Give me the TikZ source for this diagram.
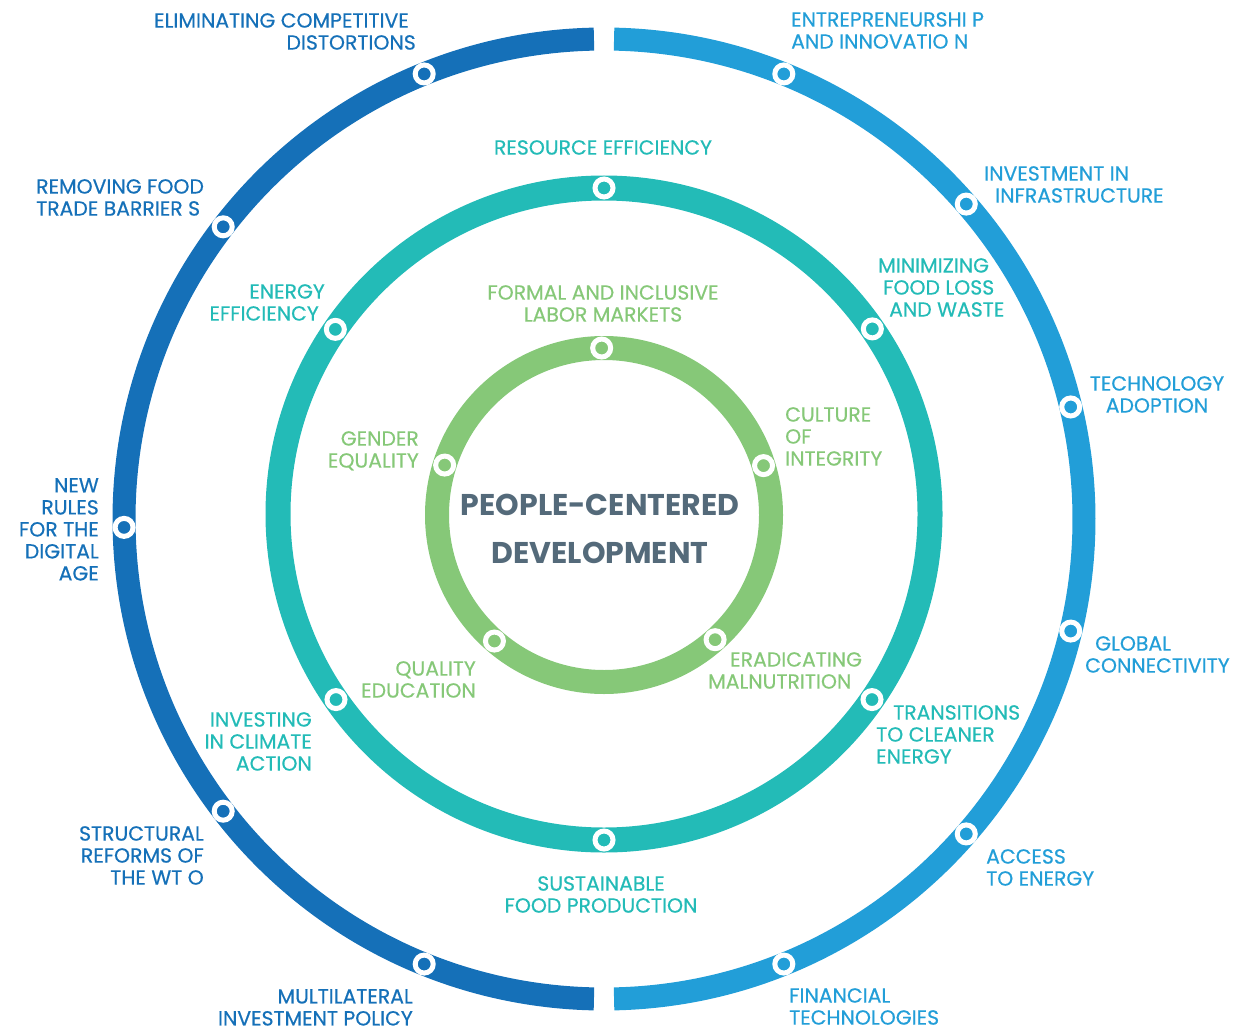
\documentclass[tikz,border=0pt]{standalone}
\usepackage{fontspec}
\setmainfont{Poppins}
\newfontfamily\labfont{Poppins}[FakeBold=0.5]
\usetikzlibrary{calc}
\definecolor{dkblue}{HTML}{1570B8}
\definecolor{ltblue}{HTML}{229ED8}
\definecolor{tealc}{HTML}{23BBB7}
\definecolor{greenc}{HTML}{86C878}
\definecolor{slate}{HTML}{546A7A}
\begin{document}
\begin{tikzpicture}[x=1pt,y=1pt,
  dot/.style={circle, fill=#1, draw=white, line width=5pt, minimum size=18pt, inner sep=0pt},
  lab/.style={inner sep=0pt, font=\labfont\fontsize{20.4}{22}\selectfont, text=#1},
  ring/.style={line width=#1}]
\useasboundingbox (0,0) rectangle (1238,-1032);
\coordinate (co) at (604,-519);
\coordinate (cm) at (604,-514);
\coordinate (ci) at (604,-515);
% rings
\draw[ring=23pt, dkblue] (co) ++(91.2:480) arc[start angle=91.2, end angle=268.8, radius=480];
\draw[ring=23pt, ltblue] (co) ++(-88.8:480) arc[start angle=-88.8, end angle=88.8, radius=480];
\draw[ring=25pt, tealc] (cm) circle[radius=326];
\draw[ring=24pt, greenc] (ci) circle[radius=167];
% outer dots
\node[dot=dkblue] (o1) at ($(co)+(112:480)$) {};
\node[dot=dkblue] (o2) at ($(co)+(142.5:480)$) {};
\node[dot=dkblue] (o3) at ($(co)+(181:480)$) {};
\node[dot=dkblue] (o4) at ($(co)+(217.5:480)$) {};
\node[dot=dkblue] (o5) at ($(co)+(248:480)$) {};
\node[dot=ltblue] (o6) at ($(co)+(68:480)$) {};
\node[dot=ltblue] (o7) at ($(co)+(41:480)$) {};
\node[dot=ltblue] (o8) at ($(co)+(13.5:480)$) {};
\node[dot=ltblue] (o9) at ($(co)+(-13.5:480)$) {};
\node[dot=ltblue] (o10) at ($(co)+(-41:480)$) {};
\node[dot=ltblue] (o11) at ($(co)+(-68:480)$) {};
% middle dots
\node[dot=tealc] (m1) at ($(cm)+(90:326)$) {};
\node[dot=tealc] (m2) at ($(cm)+(34.6:326)$) {};
\node[dot=tealc] (m3) at ($(cm)+(-34.7:326)$) {};
\node[dot=tealc] (m4) at ($(cm)+(-90:326)$) {};
\node[dot=tealc] (m5) at ($(cm)+(214.7:326)$) {};
\node[dot=tealc] (m6) at ($(cm)+(145.5:326)$) {};
% inner dots
\node[dot=greenc] (i1) at ($(ci)+(90.8:167)$) {};
\node[dot=greenc] (i2) at ($(ci)+(17.2:167)$) {};
\node[dot=greenc] (i3) at ($(ci)+(-48.3:167)$) {};
\node[dot=greenc] (i4) at ($(ci)+(229:167)$) {};
\node[dot=greenc] (i5) at ($(ci)+(162.6:167)$) {};
% center text
\node[inner sep=0pt, text=slate, font=\bfseries\fontsize{30}{48}\selectfont, align=center, anchor=north] (ctr) at (600,-494) {PEOPLE-CENTERED\\DEVELOPMENT};
% outer left labels
\node[lab=dkblue, align=right, anchor=north east] (l1) at (416,-13) {ELIMINATING COMPETITIVE\hspace*{7pt}\\DISTORTIONS};
\node[lab=dkblue, align=left, anchor=north west] (l2) at (36,-179) {REMOVING FOOD\\TRADE BARRIER S};
\node[lab=dkblue, align=right, anchor=north east] (l3) at (99,-478) {NEW\\RULES\\FOR THE\\DIGITAL\\AGE};
\node[lab=dkblue, align=right, anchor=north east] (l4) at (204,-826) {STRUCTURAL\\REFORMS OF\\THE WT O};
\node[lab=dkblue, align=right, anchor=north east] (l5) at (413,-989) {MULTILATERAL\\INVESTMENT POLICY};
% outer right labels
\node[lab=ltblue, align=left, anchor=north west] (r1) at (791,-12) {ENTREPRENEURSHI P\\AND INNOVATIO N};
\node[lab=ltblue, align=left, anchor=north west] (r2) at (984,-166) {INVESTMENT IN\\\hspace*{11pt}INFRASTRUCTURE};
\node[lab=ltblue, align=center, anchor=north] (r3) at (1157,-376) {TECHNOLOGY\\ADOPTION};
\node[lab=ltblue, align=left, anchor=north west] (r4) at (1085,-636) {\hspace*{10pt}GLOBAL\\CONNECTIVITY};
\node[lab=ltblue, align=left, anchor=north west] (r5) at (986,-849) {ACCESS\\TO ENERGY};
\node[lab=ltblue, align=left, anchor=north west] (r6) at (789,-988) {FINANCIAL\\TECHNOLOGIES};
% middle labels
\node[lab=tealc, anchor=north] (t1) at (603,-140) {RESOURCE EFFICIENCY};
\node[lab=tealc, align=left, anchor=north west] (t2) at (878,-258) {MINIMIZING\\\hspace*{5pt}FOOD LOSS\\\hspace*{11pt}AND WASTE};
\node[lab=tealc, align=left, anchor=north west] (t3) at (876,-705) {\hspace*{17pt}TRANSITIONS\\TO CLEANER\\ENERGY};
\node[lab=tealc, align=center, anchor=north] (t4) at (601,-876) {SUSTAINABLE\\FOOD PRODUCTION};
\node[lab=tealc, align=right, anchor=north east] (t5) at (312,-712) {INVESTING\\IN CLIMATE\\ACTION};
\node[lab=tealc, align=right, anchor=north east] (t6) at (325,-284) {ENERGY\\EFFICIENCY\hspace*{6pt}};
% inner labels
\node[lab=greenc, align=center, anchor=north] (g1) at (603,-285) {FORMAL AND INCLUSIVE\\LABOR MARKETS};
\node[lab=greenc, align=left, anchor=north west] (g2) at (785,-407) {CULTURE\\OF\\INTEGRITY};
\node[lab=greenc, align=right, anchor=north east] (g3) at (419,-431) {GENDER\\EQUALITY};
\node[lab=greenc, align=right, anchor=north east] (g4) at (476,-661) {QUALITY\\EDUCATION};
\node[lab=greenc, align=left, anchor=north west] (g5) at (708,-652) {\hspace*{22pt}ERADICATING\\MALNUTRITION};
\end{tikzpicture}
\end{document}
